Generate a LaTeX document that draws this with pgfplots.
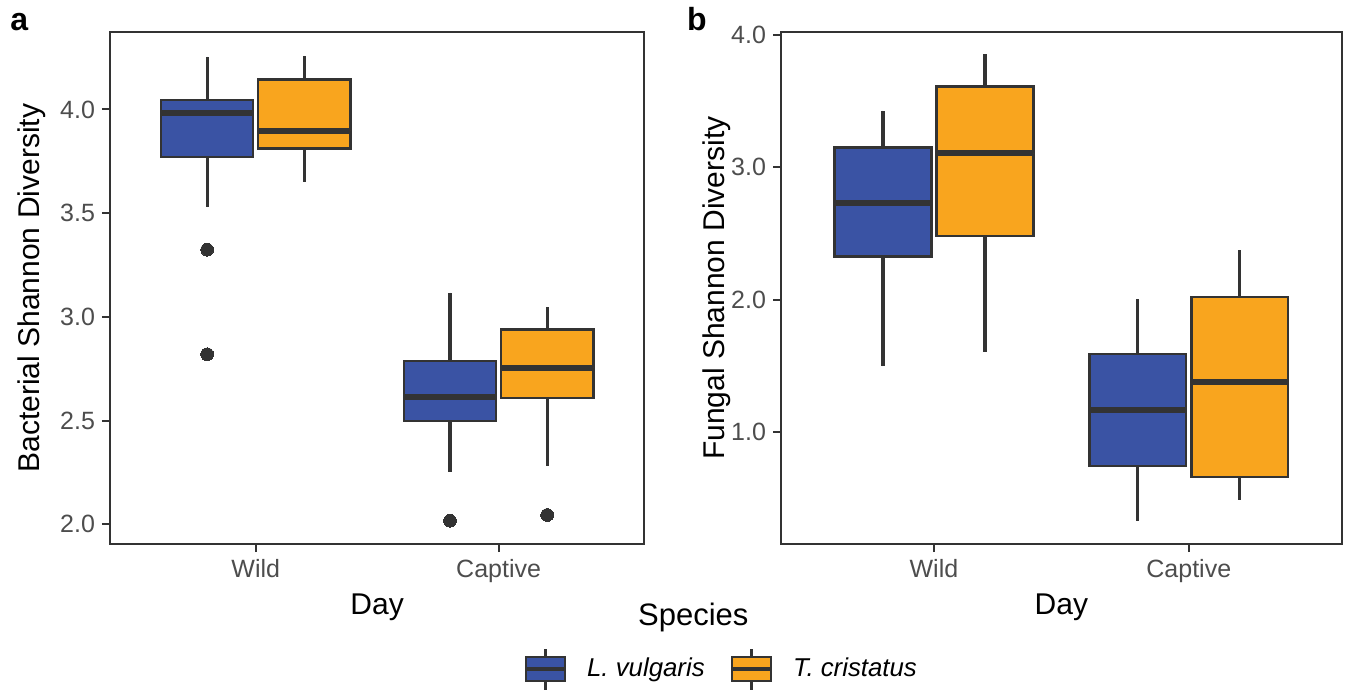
\documentclass[border=0pt]{standalone}
\usepackage{fontspec}
\setmainfont{Liberation Sans}
\usepackage{pgfplots}
\pgfplotsset{compat=1.18}
\usepgfplotslibrary{statistics}

\definecolor{lvul}{HTML}{3A53A4}
\definecolor{tcri}{HTML}{F9A51E}
\definecolor{edge}{HTML}{333333}
\definecolor{ticktext}{HTML}{4D4D4D}

\pgfplotsset{
  panel/.style={
    scale only axis,
    anchor=south west,
    height=255.85pt,
    xmin=0.4, xmax=2.6,
    xtick={1,2}, xticklabels={Wild,Captive},
    tick align=outside,
    major tick length=4pt,
    tick style={edge, line width=1pt},
    xtick pos=bottom, ytick pos=left,
    axis line style={edge, line width=1pt},
    ticklabel style={font=\fontsize{12.5}{14}\selectfont, text=ticktext},
    /pgf/number format/assume math mode=true,
    /pgf/number format/.cd, fixed, fixed zerofill, precision=1, /pgfplots/.cd,
    label style={font=\fontsize{15}{18}\selectfont, text=black},
    xlabel={Day},
    xlabel style={at={(axis description cs:0.5,-0.137)}, anchor=base},
    boxplot/draw direction=y,
    boxplot/every box/.style={draw=edge, line width=1.2pt},
    boxplot/every whisker/.style={draw=edge, line width=1.6pt},
    boxplot/every median/.style={draw=edge, line width=3pt},
    boxplot/box extend=0.38,
    boxplot/whisker extend=0,
  },
  bx/.style={draw=edge, line width=1.3pt, mark=*, mark size=3.2pt,
    mark options={fill=edge, draw=edge, line width=0pt}},
  boxlegend/.style={legend image code/.code={
    \draw[edge, line width=1.5pt] (9.75pt,-10.25pt) -- (9.75pt,10.25pt);
    \filldraw[fill=#1, draw=edge, line width=1.2pt] (0pt,-6.1pt) rectangle (19.5pt,6.1pt);
    \draw[edge, line width=2.2pt] (0pt,0pt) -- (19.5pt,0pt);}},
}

\begin{document}
\begin{tikzpicture}
\path[use as bounding box] (0pt,0pt) rectangle (676.5pt,-346.5pt);

% panel a
\begin{axis}[panel,
  at={(55pt,-272pt)}, width=267.15pt,
  ymin=1.905, ymax=4.372,
  ytick={2,2.5,3,3.5,4},
  ylabel={Bacterial Shannon Diversity},
  ylabel style={at={(axis description cs:-0.146,0.5)}, anchor=center, rotate=0},
]
\addplot[bx, fill=lvul, boxplot prepared={draw position=0.8,
  lower whisker=3.529, lower quartile=3.770, median=3.982,
  upper quartile=4.047, upper whisker=4.255}]
  coordinates {(0,3.324) (0,2.820)};
\addplot[bx, fill=tcri, boxplot prepared={draw position=1.2,
  lower whisker=3.650, lower quartile=3.811, median=3.898,
  upper quartile=4.144, upper whisker=4.260}]
  coordinates {};
\addplot[bx, fill=lvul, boxplot prepared={draw position=1.8,
  lower whisker=2.253, lower quartile=2.497, median=2.614,
  upper quartile=2.786, upper whisker=3.117}]
  coordinates {(0,2.017)};
\addplot[bx, fill=tcri, boxplot prepared={draw position=2.2,
  lower whisker=2.281, lower quartile=2.608, median=2.756,
  upper quartile=2.939, upper whisker=3.048}]
  coordinates {(0,2.045)};
\end{axis}

% panel b
\begin{axis}[panel,
  at={(390.5pt,-272pt)}, width=280.35pt,
  ymin=0.155, ymax=4.02,
  ytick={1,2,3,4},
  ylabel={Fungal Shannon Diversity},
  ylabel style={at={(axis description cs:-0.114,0.5)}, anchor=center, rotate=0},
  legend style={at={(axis description cs:-0.4596,-0.2443)}, anchor=west,
    draw=none, fill=none, inner sep=0pt,
    font=\fontsize{12.9}{15}\selectfont\itshape,
    /tikz/every odd column/.append style={column sep=10pt},
    /tikz/every even column/.append style={column sep=12.5pt},
    nodes={inner sep=0pt}},
  legend columns=2,
]
\addlegendimage{boxlegend=lvul}
\addlegendimage{boxlegend=tcri}
\addplot[bx, fill=lvul, boxplot prepared={draw position=0.8,
  lower whisker=1.496, lower quartile=2.326, median=2.729,
  upper quartile=3.149, upper whisker=3.428}]
  coordinates {};
\addplot[bx, fill=tcri, boxplot prepared={draw position=1.2,
  lower whisker=1.609, lower quartile=2.483, median=3.106,
  upper quartile=3.610, upper whisker=3.856}]
  coordinates {};
\addplot[bx, fill=lvul, boxplot prepared={draw position=1.8,
  lower whisker=0.328, lower quartile=0.746, median=1.169,
  upper quartile=1.592, upper whisker=2.007}]
  coordinates {};
\addplot[bx, fill=tcri, boxplot prepared={draw position=2.2,
  lower whisker=0.490, lower quartile=0.660, median=1.377,
  upper quartile=2.019, upper whisker=2.377}]
  coordinates {};
\legend{L. vulgaris, T. cristatus}
\end{axis}

\node[anchor=base, font=\fontsize{15.5}{18}\selectfont] at (346.65pt,-312.5pt) {Species};
\node[anchor=base west, inner sep=0pt, font=\fontsize{16}{18}\selectfont\bfseries] at (5pt,-15pt) {a};
\node[anchor=base west, inner sep=0pt, font=\fontsize{16}{18}\selectfont\bfseries] at (343.3pt,-15pt) {b};
\end{tikzpicture}
\end{document}
